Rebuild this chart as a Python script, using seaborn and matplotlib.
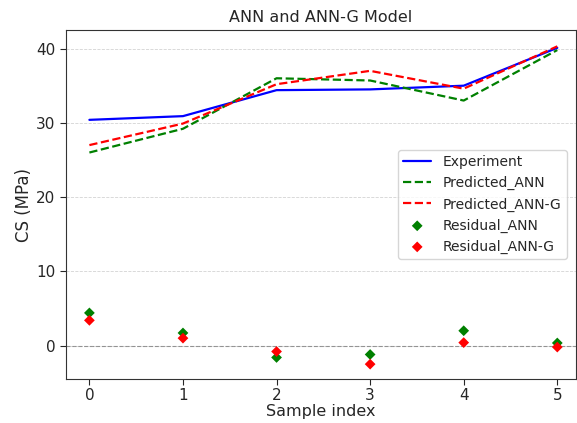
import matplotlib
matplotlib.use("Agg")
import matplotlib.pyplot as plt
import seaborn as sns
import pandas as pd

sample_index = [0, 1, 2, 3, 4, 5]
experiment = [30.4, 30.9, 34.4, 34.5, 35.0, 40.1]
predicted_ann = [26.0, 29.2, 36.0, 35.7, 33.0, 39.8]
predicted_ann_g = [27.0, 29.9, 35.2, 37.0, 34.6, 40.3]
residual_ann = [4.4, 1.7, -1.6, -1.2, 2.0, 0.35]
residual_ann_g = [3.4, 1.0, -0.8, -2.5, 0.4, -0.2]

df = pd.DataFrame({
    "idx": sample_index,
    "exp": experiment,
    "ann": predicted_ann,
    "anng": predicted_ann_g,
    "rann": residual_ann,
    "ranng": residual_ann_g,
})

sns.set_style("white")
plt.rcParams['font.family'] = ['DejaVu Sans']

fig = plt.figure(figsize=(5.77, 4.23), dpi=100)
ax = fig.add_axes([66/577, 44/423, (576-66)/577, (379-30)/423])

sns.lineplot(data=df, x="idx", y="exp", ax=ax, color="blue", lw=1.6, label="Experiment")
sns.lineplot(data=df, x="idx", y="ann", ax=ax, color="green", lw=1.6, ls="--", label="Predicted_ANN")
sns.lineplot(data=df, x="idx", y="anng", ax=ax, color="red", lw=1.6, ls="--", label="Predicted_ANN-G")
sns.scatterplot(data=df, x="idx", y="rann", ax=ax, color="green", marker="D", s=30, edgecolor="none", label="Residual_ANN", zorder=3)
sns.scatterplot(data=df, x="idx", y="ranng", ax=ax, color="red", marker="D", s=30, edgecolor="none", label="Residual_ANN-G", zorder=3)

ax.axhline(0, color="gray", ls="--", lw=0.8, alpha=0.8)
ax.yaxis.grid(True, ls="--", color="lightgray", lw=0.6)
ax.set_xlim(-0.25, 5.2)
ax.set_ylim(-4.5, 42.5)
ax.set_yticks([0, 10, 20, 30, 40])
ax.set_xticks(sample_index)
ax.set_title("ANN and ANN-G Model", fontsize=11.5)
ax.set_xlabel("Sample index", fontsize=11.5, labelpad=1)
ax.set_ylabel("CS (MPa)", fontsize=12, labelpad=2)
ax.tick_params(axis="both", labelsize=11, length=4, left=True, bottom=True)
ax.tick_params(axis="x", pad=2.5)
for s in ax.spines.values():
    s.set_color("#333333")
ax.legend(loc="center right", bbox_to_anchor=(0.995, 0.5), fontsize=10, frameon=True)

fig.savefig("out.png", dpi=100)
